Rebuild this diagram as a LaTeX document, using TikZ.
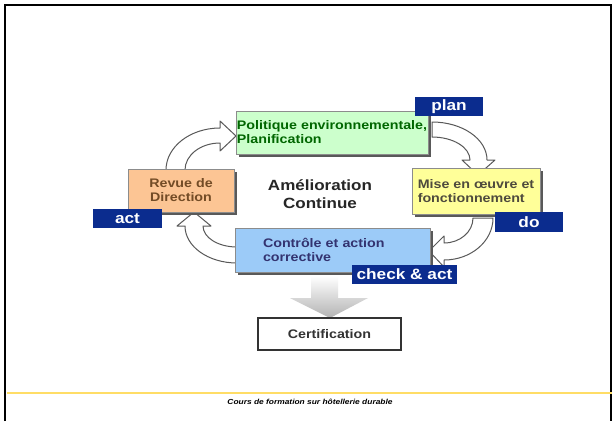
\documentclass[tikz,border=0pt]{standalone}
\usepackage{fontspec}
\setmainfont{Liberation Sans}[FakeStretch=1.15]
\usetikzlibrary{shadows}

\definecolor{tagblue}{HTML}{0B2C8E}
\definecolor{greenbox}{HTML}{CCFFCC}
\definecolor{yellowbox}{HTML}{FFFF99}
\definecolor{orangebox}{HTML}{FCC594}
\definecolor{bluebox}{HTML}{9CCBF8}
\definecolor{footline}{HTML}{FFDD66}

\tikzset{
  box/.style={draw=black!45, line width=.6pt, inner sep=0pt,
    font=\fontsize{12.4}{14}\selectfont\bfseries,
    general shadow={fill=black!65, shadow xshift=3pt, shadow yshift=-3pt}},
  tag/.style={fill=tagblue, text=white, inner sep=0pt,
    font=\fontsize{15}{17}\selectfont\bfseries},
  cycarrow/.style={draw=black!65, fill=white, line width=1pt, line join=round}
}

\begin{document}
\begin{tikzpicture}[x=1pt, y=-1pt]
  \fill[white] (0,0) rectangle (612,421);
  \useasboundingbox (0,0) rectangle (612,421);
  % slide frame and footer line
  \draw[line width=2pt] (5,421) -- (5,5) -- (611,5) -- (611,421);
  \draw[footline, line width=1.5pt] (7,393) -- (612,393);

  % curved arrows of the cycle
  \coordinate (pivot1) at (220,170);
  \coordinate (pivot2) at (432,160);
  \coordinate (pivot3) at (444,218);
  \coordinate (pivot4) at (237,226);
  \draw[cycarrow] (pivot1) ++(-54,0) arc[start angle=180, end angle=270, x radius=54, y radius=42]
    -- ++(0,-7) -- ++(16,15) -- ++(-16,15) -- ++(0,-8)
    arc[start angle=270, end angle=180, x radius=35, y radius=27] -- cycle;
  \draw[cycarrow] (pivot2) ++(0,-38) arc[start angle=270, end angle=360, x radius=55, y radius=38]
    -- ++(8,0) -- ++(-17,15) -- ++(-16,-15) -- ++(8,0)
    arc[start angle=360, end angle=270, x radius=38, y radius=23] -- cycle;
  \draw[cycarrow] (pivot3) ++(49,0) arc[start angle=0, end angle=90, x radius=49, y radius=42]
    -- ++(0,7) -- ++(-15,-16) -- ++(15,-15) -- ++(0,7)
    arc[start angle=90, end angle=0, x radius=29, y radius=25] -- cycle;
  \draw[cycarrow] (pivot4) ++(0,37) arc[start angle=90, end angle=180, x radius=52, y radius=37]
    -- ++(-8,0) -- ++(17,-14) -- ++(17,14) -- ++(-8,0)
    arc[start angle=180, end angle=90, x radius=34, y radius=21] -- cycle;

  % arrow down to the certification
  \shade[top color=white, bottom color=black!30]
    (311,276) -- (338,276) -- (338,298) -- (368,298) -- (330,318)
    -- (290,298) -- (311,298) -- cycle;

  % boxes
  \node[box, fill=greenbox, text=green!40!black, align=left,
    minimum width=192pt, minimum height=43pt] (politique) at (332,132.5)
    {Politique environnementale,\\Planification};
  \node[box, fill=yellowbox, text=black!80!yellow, align=left,
    minimum width=128pt, minimum height=46pt] (mise) at (476,191)
    {Mise en œuvre et\\fonctionnement};
  \node[box, fill=orangebox, text=brown!60!black, align=center,
    minimum width=106pt, minimum height=43pt] (revue) at (181,190.5)
    {Revue de\\Direction};
  \node[box, fill=bluebox, text=blue!30!black!80, align=left, text width=139pt,
    inner xsep=28pt, minimum height=44pt] (controle) at (332.5,250)
    {Contrôle et action\\corrective};
  \node[draw=black!80, line width=1.2pt, fill=white, text=black!80,
    font=\fontsize{12.4}{14}\selectfont\bfseries,
    minimum width=143pt, minimum height=32pt] (certif) at (329.5,334) {Certification};

  \node[font=\fontsize{14.8}{18}\selectfont\bfseries, text=black!85, align=center]
    (amelio) at (320,194) {Amélioration\\Continue};

  % labels of the cycle
  \node[tag, minimum width=68pt, minimum height=19pt] (tplan) at (449,106.5) {plan};
  \node[tag, minimum width=68pt, minimum height=20pt] (tdo) at (529,222) {do};
  \node[tag, minimum width=69pt, minimum height=19pt] (tact) at (127.5,218.5) {act};
  \node[tag, minimum width=105pt, minimum height=19pt] (tcheck) at (404.5,274.5) {check \& act};

  \node[font=\fontsize{7.3}{9}\selectfont\bfseries\itshape] (footer) at (310,402)
    {Cours de formation sur hôtellerie durable};
\end{tikzpicture}
\end{document}
